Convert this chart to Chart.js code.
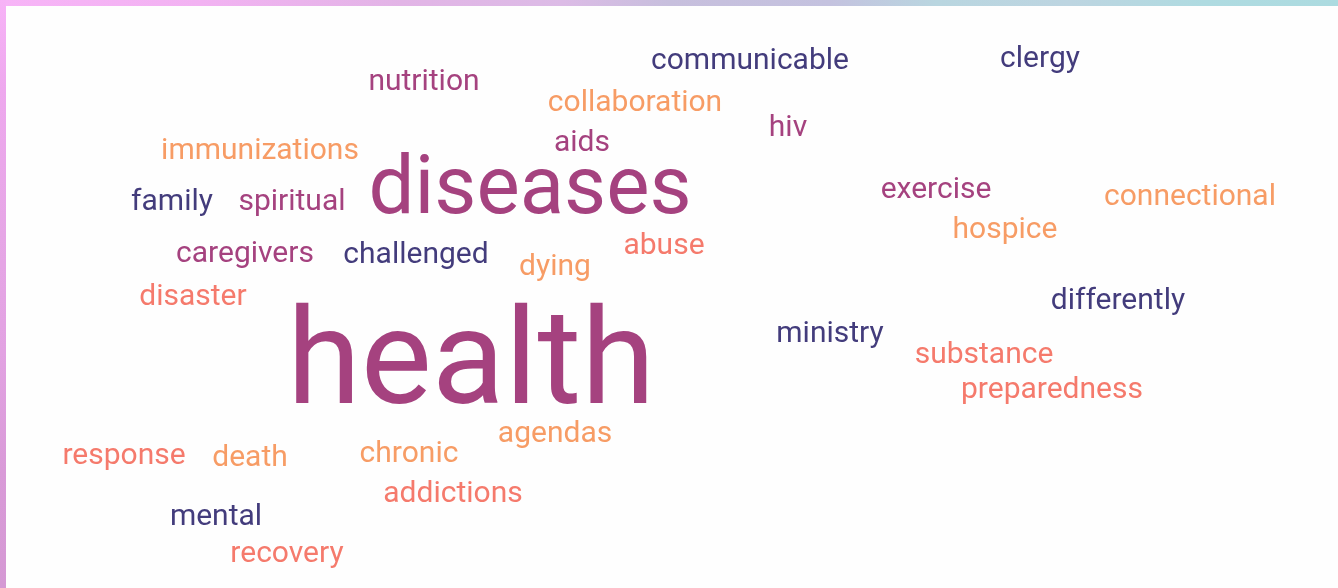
<!DOCTYPE html>
<html>
<head>
<meta charset="utf-8">
<script src="https://cdn.jsdelivr.net/npm/chart.js@4.4.1/dist/chart.umd.min.js"></script>
<style>
  html, body { margin: 0; padding: 0; background: #fefefe; overflow: hidden; }
  #wrap { position: relative; width: 1338px; height: 588px; }
  #topbar { position: absolute; left: 0; top: 0; width: 1338px; height: 6px;
    background: linear-gradient(90deg, #f7b4f7 0%, #f2b2f2 15%, #e2b4e6 30%, #dcbbe6 42%, #c7bfdd 50%, #c4c2df 62%, #b9d6e0 70%, #bdd5e1 80%, #afdbe1 90%, #acdbe0 100%); }
  #leftbar { position: absolute; left: 0; top: 0; width: 6px; height: 588px;
    background: linear-gradient(180deg, #f7b3f7 0%, #eea8ee 15%, #e6a6e6 40%, #e2a2e2 60%, #d99ad8 80%, #d599d4 100%); }
  canvas { position: absolute; left: 0; top: 0; }
</style>
</head>
<body>
<div id="wrap">
  <canvas id="c" width="1338" height="588"></canvas>
  <div id="topbar"></div>
  <div id="leftbar"></div>
</div>
<script>
// ---- data ----
const words = ["communicable","clergy","nutrition","collaboration","hiv","aids","immunizations","diseases","family","spiritual","exercise","connectional","hospice","caregivers","challenged","abuse","dying","disaster","differently","health","ministry","substance","preparedness","agendas","response","death","chronic","addictions","mental","recovery"];
const weights = [1,1,1,1,1,1,1,2.72,1,1,1,1,1,1,1,1,1,1,1,4.47,1,1,1,1,1,1,1,1,1,1];
const groups  = [0,0,1,3,1,1,3,1,0,1,1,3,3,1,0,2,3,2,0,1,0,2,2,3,2,3,3,2,0,2];
const posX = [750,1040,424,635,788,582,260,530,172,292,936,1190,1005,245,416,664,555,193,1118,471,830,984,1052,555,124,250,409,453,216,287];
const posY = [69,67,90,111,136,151,159,213,210,210,198,205,238,262,263,254,275,305,309,403,342,363,398,442,464,466,462,502,525,562];

// ---- styling ----
const palette = ["#433c7c", "#a5427f", "#f57a6c", "#f79c65"];
const baseFont = 30;

const points = words.map((w, i) => ({ x: posX[i], y: posY[i] }));

const wordPlugin = {
  id: 'wordText',
  afterDatasetsDraw(chart) {
    const ctx = chart.ctx;
    const meta = chart.getDatasetMeta(0);
    ctx.save();
    ctx.textAlign = 'center';
    ctx.textBaseline = 'alphabetic';
    meta.data.forEach((el, i) => {
      const size = (baseFont * weights[i]).toFixed(1);
      ctx.font = `${size}px Roboto`;
      ctx.fillStyle = palette[groups[i]];
      ctx.fillText(words[i], el.x, el.y);
    });
    ctx.restore();
  }
};

new Chart(document.getElementById('c'), {
  type: 'scatter',
  data: { datasets: [{ data: points, pointRadius: 0, pointHoverRadius: 0 }] },
  options: {
    responsive: false,
    animation: false,
    layout: { padding: 0 },
    plugins: { legend: { display: false }, tooltip: { enabled: false } },
    scales: {
      x: { type: 'linear', min: 0, max: 1338, display: false },
      y: { type: 'linear', min: 0, max: 588, reverse: true, display: false }
    }
  },
  plugins: [wordPlugin]
});
</script>
</body>
</html>
